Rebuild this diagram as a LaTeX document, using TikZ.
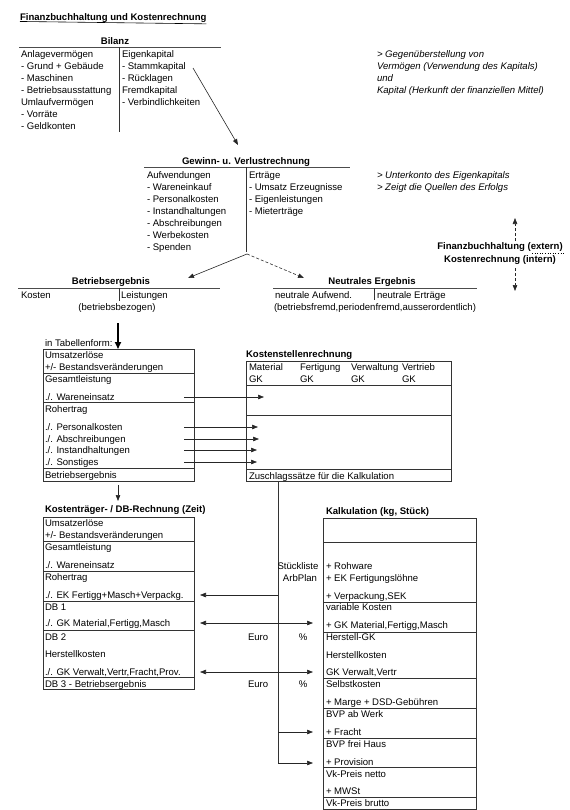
\documentclass[tikz,border=0pt]{standalone}
\usepackage{fontspec}
\setmainfont{Liberation Sans}
\usetikzlibrary{arrows.meta}
\newcommand{\fsz}{\fontsize{9.6}{12}\selectfont}
\begin{document}
\begin{tikzpicture}[x=1bp,y=-1bp,
  txt/.style={anchor=mid west,inner sep=0pt,outer sep=0pt,font=\fsz,yshift=-1.2bp},
  ctxt/.style={anchor=mid,inner sep=0pt,outer sep=0pt,font=\fsz,yshift=-1.2bp},
  ttl/.style={anchor=mid west,inner sep=0pt,outer sep=0pt,font=\fsz\bfseries},
  cttl/.style={anchor=mid,inner sep=0pt,outer sep=0pt,font=\fsz\bfseries,yshift=0.3bp},
  note/.style={txt,font=\fsz\itshape},
  rul/.style={draw=black!80,line width=0.7bp},
  hrul/.style={draw=black!70,line width=1.1bp},
  boxr/.style={draw=black!80,line width=0.7bp},
  arr/.style={draw=black!85,line width=0.6bp,-{Triangle[length=6bp,width=4.5bp]}},
  darr/.style={draw=black!85,line width=0.6bp,{Triangle[length=6bp,width=4.5bp]}-{Triangle[length=6bp,width=4.5bp]}},
  dsh/.style={arr,dashed,dash pattern=on 3bp off 2bp}]
\useasboundingbox (0,0) rectangle (570,810);

% Title
\node[ttl] (title) at (20,18) {Finanzbuchhaltung und Kostenrechnung};
\draw[line width=0.6bp] (title.south west) ++(0,-1.2) -- ([yshift=-1.2bp]title.south east);

% Bilanz
\node[cttl] (bilanz) at (115,42) {Bilanz};
\draw[hrul] (19,47.5) -- (221,47.5);
\draw[rul] (119,47) -- (119,132);
\foreach \t [count=\i] in {Anlagevermögen,- Grund + Gebäude,- Maschinen,- Betriebsausstattung,Umlaufvermögen,- Vorräte,- Geldkonten}
  \node[txt] (bl\i) at (21,{42+12*\i}) {\t};
\foreach \t [count=\i] in {Eigenkapital,- Stammkapital,- Rücklagen,Fremdkapital,- Verbindlichkeiten}
  \node[txt] (br\i) at (122,{42+12*\i}) {\t};
\node[note] (n1) at (377,54) {> Gegenüberstellung von};
\node[note] (n2) at (377,66) {Vermögen (Verwendung des Kapitals)};
\node[note] (n3) at (377,78) {und};
\node[note] (n4) at (377,90) {Kapital (Herkunft der finanziellen Mittel)};

% GuV
\coordinate (stk) at (193,68);
\coordinate (guvin) at (238,145);
\draw[arr] (stk) -- (guvin);
\node[cttl] (guv) at (246,162) {Gewinn- u. Verlustrechnung};
\draw[hrul] (144,167.5) -- (350,167.5);
\draw[rul] (246,167) -- (246,252);
\foreach \t [count=\i] in {Aufwendungen,- Wareneinkauf,- Personalkosten,- Instandhaltungen,- Abschreibungen,- Werbekosten,- Spenden}
  \node[txt] (gl\i) at (147,{163+12*\i}) {\t};
\foreach \t [count=\i] in {Erträge,- Umsatz Erzeugnisse,- Eigenleistungen,- Mieterträge}
  \node[txt] (gr\i) at (249,{163+12*\i}) {\t};
\node[note] (n5) at (377,175) {> Unterkonto des Eigenkapitals};
\node[note] (n6) at (377,187) {> Zeigt die Quellen des Erfolgs};

\coordinate (apex) at (247,254);
\coordinate (beIn) at (188,278);
\coordinate (neIn) at (304,278);
\draw[arr] (apex) -- (beIn);
\draw[dsh] (apex) -- (neIn);

% Betriebsergebnis
\node[cttl] (be) at (111,282.5) {Betriebsergebnis};
\draw[hrul] (18,288.5) -- (220,288.5);
\draw[rul] (119,288) -- (119,301);
\node[txt] (kost) at (21,295) {Kosten};
\node[txt] (leist) at (121,295) {Leistungen};
\node[ctxt] (bbez) at (117,307) {(betriebsbezogen)};

% Neutrales Ergebnis
\node[cttl] (ne) at (372,282.5) {Neutrales Ergebnis};
\draw[hrul] (273,288.5) -- (477,288.5);
\draw[rul] (374,288) -- (374,300);
\node[txt] (naufw) at (275,295) {neutrale Aufwend.};
\node[txt] (nertr) at (377,295) {neutrale Erträge};
\node[txt] (nbf) at (274,307) {(betriebsfremd,periodenfremd,ausserordentlich)};

% extern / intern
\node[cttl] (fibu) at (500,247) {Finanzbuchhaltung (extern)};
\node[cttl] (kore) at (500,260) {Kostenrechnung (intern)};
\draw[dotted,line width=0.6bp] (532,253.5) -- (564,253.5);
\coordinate (upA) at (515,241);
\coordinate (upB) at (515,218);
\coordinate (dnA) at (515,268);
\coordinate (dnB) at (515,291);
\draw[dsh] (upA) -- (upB);
\draw[dsh] (dnA) -- (dnB);

% Tabellenform
\coordinate (tfA) at (118,323);
\coordinate (tfB) at (118,349);
\draw[draw=black,line width=1.6bp,-{Triangle[length=7bp,width=6bp]}] (tfA) -- (tfB);
\node[txt] (tabf) at (45,343) {in Tabellenform:};

\draw[boxr] (43,349) rectangle (194,481);
\draw[rul] (43,373) -- (194,373);
\draw[rul] (43,402) -- (194,402);
\draw[rul] (43,468) -- (194,468);
\node[txt] (t1a) at (45,355) {Umsatzerlöse};
\node[txt] (t1b) at (45,367) {+/- Bestandsveränderungen};
\node[txt] (t1c) at (45,379) {Gesamtleistung};
\node[txt] (t1d) at (45,397) {./. Wareneinsatz};
\node[txt] (t1e) at (45,409) {Rohertrag};
\node[txt] (t1f) at (45,427) {./. Personalkosten};
\node[txt] (t1g) at (45,439) {./. Abschreibungen};
\node[txt] (t1h) at (45,450) {./. Instandhaltungen};
\node[txt] (t1i) at (45,462) {./. Sonstiges};
\node[txt] (t1j) at (45,475) {Betriebsergebnis};

% Kostenstellenrechnung
\node[ttl] (ksr) at (246,355) {Kostenstellenrechnung};
\draw[boxr] (246,361) rectangle (451,481);
\draw[rul] (246,385) -- (451,385);
\draw[rul] (246,415) -- (451,415);
\draw[rul] (246,469) -- (451,469);
\node[txt] (h1) at (249,367) {Material};
\node[txt] (h2) at (300,367) {Fertigung};
\node[txt] (h3) at (351,367) {Verwaltung};
\node[txt] (h4) at (402,367) {Vertrieb};
\node[txt] (g1) at (249,379) {GK};
\node[txt] (g2) at (300,379) {GK};
\node[txt] (g3) at (351,379) {GK};
\node[txt] (g4) at (402,379) {GK};
\node[txt] (zus) at (249,476) {Zuschlagssätze für die Kalkulation};

\foreach \y/\xe [count=\i] in {397/264,427/258,439/259,450/257,462/257}{
  \coordinate (ka\i) at (184,\y);
  \coordinate (kb\i) at (\xe,\y);
  \draw[arr] (ka\i) -- (kb\i);
}

% arrow to table 2
\coordinate (t2A) at (118,485);
\coordinate (t2B) at (118,501);
\draw[arr] (t2A) -- (t2B);

% Kostentraeger table
\node[ttl] (ktr) at (45,510) {Kostenträger- / DB-Rechnung (Zeit)};
\draw[boxr] (43,517) rectangle (194,689);
\foreach \y in {541,571,601,630,677} \draw[rul] (43,\y) -- (194,\y);
\node[txt] (u1) at (45,523) {Umsatzerlöse};
\node[txt] (u2) at (45,535) {+/- Bestandsveränderungen};
\node[txt] (u3) at (45,547) {Gesamtleistung};
\node[txt] (u4) at (45,565) {./. Wareneinsatz};
\node[txt] (u5) at (45,577) {Rohertrag};
\node[txt] (u6) at (45,595) {./. EK Fertigg+Masch+Verpackg.};
\node[txt] (u7) at (45,607) {DB 1};
\node[txt] (u8) at (45,623) {./. GK Material,Fertigg,Masch};
\node[txt] (u9) at (45,637) {DB 2};
\node[txt] (u10) at (45,654) {Herstellkosten};
\node[txt] (u11) at (45,672) {./. GK Verwalt,Vertr,Fracht,Prov.};
\node[txt] (u12) at (45,684) {DB 3 - Betriebsergebnis};

% Kalkulation
\node[ttl] (kalk) at (326,512) {Kalkulation (kg, Stück)};
\draw[boxr] (323,518) rectangle (476,809);
\foreach \y in {542,602,632,678,708,738,767,797} \draw[rul] (323,\y) -- (476,\y);
\node[txt] (k1) at (326,566) {+ Rohware};
\node[txt] (k2) at (326,578) {+ EK Fertigungslöhne};
\node[txt] (k3) at (326,596) {+ Verpackung,SEK};
\node[txt] (k4) at (326,607) {variable Kosten};
\node[txt] (k5) at (326,625) {+ GK Material,Fertigg,Masch};
\node[txt] (k6) at (326,637) {Herstell-GK};
\node[txt] (k7) at (326,655) {Herstellkosten};
\node[txt] (k8) at (326,672) {GK Verwalt,Vertr};
\node[txt] (k9) at (326,684) {Selbstkosten};
\node[txt] (k10) at (326,702) {+ Marge + DSD-Gebühren};
\node[txt] (k11) at (326,714) {BVP ab Werk};
\node[txt] (k12) at (326,732) {+ Fracht};
\node[txt] (k13) at (326,744) {BVP frei Haus};
\node[txt] (k14) at (326,762) {+ Provision};
\node[txt] (k15) at (326,774) {Vk-Preis netto};
\node[txt] (k16) at (326,791) {+ MWSt};
\node[txt] (k17) at (326,803) {Vk-Preis brutto};

% vertical connector from Kostenstellenrechnung
\coordinate (vTop) at (278,481);
\coordinate (vBot) at (278,763);
\coordinate (vEK) at (278,595);
\coordinate (tEK) at (200,595);
\coordinate (lGK) at (200,623);
\coordinate (rGK) at (313,623);
\coordinate (lVW) at (200,672);
\coordinate (rVW) at (313,672);
\coordinate (vFr) at (278,732);
\coordinate (rFr) at (313,732);
\coordinate (rPr) at (313,763);
\draw[rul] (vTop) -- (vBot);
\draw[arr] (vEK) -- (tEK);
\draw[darr] (lGK) -- (rGK);
\draw[darr] (lVW) -- (rVW);
\draw[arr] (vFr) -- (rFr);
\draw[arr] (vBot) -- (rPr);

\node[ctxt] (stl) at (298,566) {Stückliste};
\node[ctxt] (arbp) at (300,578) {ArbPlan};
\node[txt] (eu1) at (248,637) {Euro};
\node[txt] (eu2) at (248,684) {Euro};
\node[ctxt] (pc1) at (303,637) {\%};
\node[ctxt] (pc2) at (303,684) {\%};
\end{tikzpicture}
\end{document}
